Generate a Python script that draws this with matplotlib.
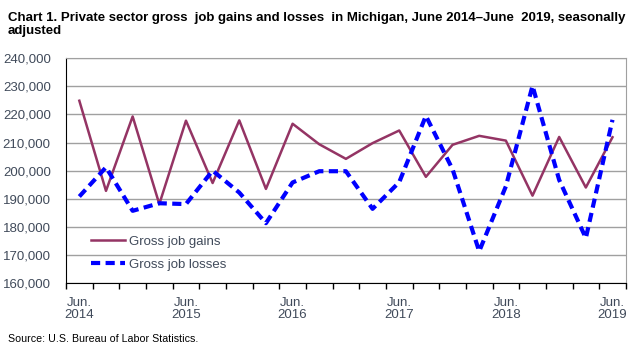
import numpy as np
import matplotlib.pyplot as plt

plt.rcParams['font.family'] = ['Liberation Sans', 'DejaVu Sans']

# quarterly, June 2014 - June 2019
quarters = np.arange(21)
gains = [224900, 192800, 219300, 188100, 217800, 195600, 217900, 193500, 216700, 209400,
         204200, 209800, 214300, 197800, 209200, 212400, 210700, 191100, 212000, 194000, 211900]
losses = [190800, 201200, 185700, 188400, 188100, 200000, 192200, 181300, 195800, 199800,
          199800, 186400, 195900, 219500, 200500, 171300, 194400, 230200, 196700, 176000, 218100]
year_labels = ['Jun.\n2014', 'Jun.\n2015', 'Jun.\n2016', 'Jun.\n2017', 'Jun.\n2018', 'Jun.\n2019']

txt = '#404a5a'

fig = plt.figure(figsize=(6.42, 3.5), dpi=100)
ax = fig.add_axes([0.1028, 0.1914, 0.872, 0.642])

ax.plot(quarters, gains, color='#943464', lw=1.8, label='Gross job gains')
ax.plot(quarters, losses, color='#0000ff', lw=3, ls=(0, (2.2, 1.3)), label='Gross job losses')

ax.set_xlim(-0.5, 20.5)
ax.set_ylim(160000, 240000)
ax.set_yticks(np.arange(160000, 240001, 10000))
ax.set_yticklabels([f'{v:,}' for v in range(160000, 240001, 10000)], color=txt, fontsize=9.5)
ax.tick_params(axis='y', length=0, pad=11)
ax.yaxis.grid(True, color='#a0a0a0', lw=1)
ax.set_axisbelow(True)

ax.set_xticks(np.arange(-0.5, 21, 1))
ax.set_xticklabels([])
ax.tick_params(axis='x', which='major', length=4, width=1, color='black', direction='out')
ax.set_xticks(np.arange(0, 21, 4), minor=True)
ax.set_xticklabels(year_labels, minor=True, color=txt, fontsize=9.5, linespacing=1.05)
ax.tick_params(axis='x', which='minor', length=0, pad=10)

for s in ['top', 'right']:
    ax.spines[s].set_color('#a0a0a0')
for s in ['left', 'bottom']:
    ax.spines[s].set_color('black')

ax.legend(loc='lower left', bbox_to_anchor=(0.035, 0.03), frameon=False, fontsize=9.5,
          handlelength=2.6, handletextpad=0.3, labelspacing=0.85, labelcolor=txt,
          borderaxespad=0)

fig.text(0.0125, 0.965, 'Chart 1. Private sector gross  job gains and losses  in Michigan, June 2014\u2013June  2019, seasonally\nadjusted',
         fontsize=9.5, fontweight='bold', va='top', ha='left', linespacing=1.1)
fig.text(0.0125, 0.018, 'Source: U.S. Bureau of Labor Statistics.', fontsize=7.7, va='bottom', ha='left')

fig.savefig('out.png', dpi=100)
